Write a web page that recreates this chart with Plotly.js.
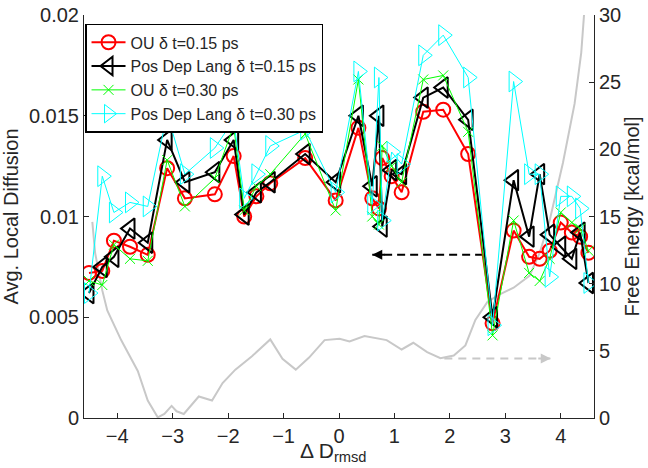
<!DOCTYPE html>
<html>
<head>
<meta charset="utf-8">
<script src="https://cdn.plot.ly/plotly-3.0.1.min.js"></script>
<style>html,body{margin:0;padding:0;background:#fff}#chart{width:648px;height:468px}</style>
</head>
<body>
<div id="chart"></div>
<script>
// Reaction coordinate bins (Δ D_rmsd)
const binX = [-4.51, -4.27, -4.06, -3.77, -3.45, -3.10, -2.78, -2.24, -1.90, -1.71, -1.49, -1.24, -0.61, -0.06, 0.35, 0.60, 0.72, 0.78, 0.95, 1.13, 1.52, 1.88, 2.33, 2.77, 3.15, 3.43, 3.62, 3.80, 4.00, 4.20, 4.35, 4.50];

// Avg. local diffusion per series
const ou015 = [0.0072, 0.0073, 0.0088, 0.0085, 0.0081, 0.0124, 0.0109, 0.0111, 0.0130, 0.0100, 0.0110, 0.01165, 0.0129, 0.0108, 0.0144, 0.0109, 0.0104, 0.0129, 0.0120, 0.0112, 0.0152, 0.0153, 0.0131, 0.0047, 0.0093, 0.0080, 0.0079, 0.0083, 0.0097, 0.0092, 0.0090, 0.0082];
const pdl015 = [0.0062, 0.0075, 0.0080, 0.0094, 0.0087, 0.0138, 0.0117, 0.0122, 0.0138, 0.0101, 0.0112, 0.0117, 0.0131, 0.0117, 0.0150, 0.0115, 0.0150, 0.0095, 0.0123, 0.0121, 0.0159, 0.0164, 0.0148, 0.0050, 0.0118, 0.0090, 0.0121, 0.0091, 0.0085, 0.0079, 0.0092, 0.0067];
const ou030 = [0.0068, 0.0066, 0.0086, 0.0079, 0.0078, 0.0128, 0.0105, 0.0119, 0.0145, 0.0103, 0.0115, 0.0121, 0.0141, 0.0103, 0.0168, 0.0100, 0.0096, 0.0135, 0.0125, 0.0117, 0.0168, 0.0170, 0.0142, 0.0041, 0.0098, 0.0072, 0.0068, 0.0079, 0.0102, 0.0097, 0.0094, 0.0083];
const pdl030 = [0.0062, 0.0120, 0.0102, 0.0107, 0.0105, 0.0151, 0.0121, 0.0134, 0.0148, 0.0109, 0.0121, 0.0135, 0.0143, 0.0112, 0.0172, 0.0106, 0.0169, 0.0098, 0.0132, 0.0126, 0.0180, 0.0190, 0.0169, 0.0046, 0.0167, 0.0121, 0.0121, 0.0070, 0.0110, 0.0110, 0.0104, 0.0067];

// Free energy profile (right axis)
const feX = [-4.45, -4.40, -4.27, -4.18, -3.93, -3.63, -3.45, -3.27, -3.15, -3.02, -2.93, -2.80, -2.53, -2.29, -2.10, -1.87, -1.57, -1.24, -1.02, -0.78, -0.54, -0.26, 0.01, 0.19, 0.46, 0.86, 1.13, 1.34, 1.59, 1.83, 2.07, 2.28, 2.46, 2.68, 2.90, 3.15, 3.44, 3.62, 3.80, 4.04, 4.25, 4.37, 4.42];
const feY = [14.6, 12.3, 9.5, 8.0, 5.8, 3.5, 1.3, 0.05, 0.3, 0.9, 0.5, 0.3, 1.6, 1.3, 2.6, 3.6, 4.6, 5.85, 4.4, 3.6, 4.5, 5.8, 5.9, 5.7, 6.1, 5.8, 5.1, 5.6, 4.9, 4.45, 4.65, 5.4, 7.3, 8.65, 9.2, 9.7, 10.6, 12.3, 14.7, 19.0, 23.4, 27.2, 30.0];

// Arrow guides
const blackArrowX = [2.60, 0.60];
const blackArrowY = [0.0081, 0.0081];
const grayArrowX = [1.90, 3.82];
const grayArrowY = [4.43, 4.43];

// Tick labels
const xTicks = [-4, -3, -2, -1, 0, 1, 2, 3, 4];
const leftTicks = [0, 0.005, 0.01, 0.015, 0.02];
const leftTickText = ['0', '0.005', '0.01', '0.015', '0.02'];
const rightTicks = [0, 5, 10, 15, 20, 25, 30];

const FONT = 'Liberation Sans, Arial, Helvetica, sans-serif';
const TXT = '#262626';

const traces = [
  {x: feX, y: feY, yaxis: 'y', mode: 'lines', line: {color: '#c8c8c8', width: 2}, showlegend: false, hoverinfo: 'skip'},
  {x: grayArrowX, y: grayArrowY, yaxis: 'y', mode: 'lines', line: {color: '#c8c8c8', width: 2, dash: '8px,6px'}, showlegend: false, hoverinfo: 'skip'},
  {x: blackArrowX, y: blackArrowY, yaxis: 'y2', mode: 'lines', line: {color: '#000', width: 2, dash: '8px,5px'}, showlegend: false, hoverinfo: 'skip'},
  {x: binX, y: ou015, yaxis: 'y2', name: 'OU δ t=0.15 ps', mode: 'lines+markers',
   line: {color: '#ff0000', width: 2}, marker: {symbol: 'circle-open', size: 14, color: '#ff0000', line: {width: 2}}},
  {x: binX, y: pdl015, yaxis: 'y2', name: 'Pos Dep Lang δ t=0.15 ps', mode: 'lines+markers',
   line: {color: '#000000', width: 2}, marker: {symbol: 'triangle-left-open', size: 18, color: '#000000', line: {width: 2}}},
  {x: binX, y: ou030, yaxis: 'y2', name: 'OU δ t=0.30 ps', mode: 'lines+markers',
   line: {color: '#00ff00', width: 1}, marker: {symbol: 'x-thin-open', size: 10, color: '#00ff00', line: {width: 1, color: '#00ff00'}}},
  {x: binX, y: pdl030, yaxis: 'y2', name: 'Pos Dep Lang δ t=0.30 ps', mode: 'lines+markers',
   line: {color: '#00ffff', width: 1}, marker: {symbol: 'triangle-right-open', size: 18, color: '#00ffff', line: {width: 1}}}
];

const layout = {
  width: 648, height: 468,
  margin: {l: 84, r: 54, t: 15, b: 50},
  paper_bgcolor: '#fff', plot_bgcolor: '#fff',
  font: {family: FONT, color: TXT, size: 20},
  showlegend: true,
  legend: {x: 0.002, y: 0.978, xanchor: 'left', yanchor: 'top', bgcolor: '#fff', bordercolor: '#000', borderwidth: 1.5,
           font: {family: FONT, size: 16, color: TXT}, tracegroupgap: 0, itemwidth: 34},
  xaxis: {range: [-4.6, 4.6], tickvals: xTicks, ticks: 'inside', ticklen: 5, tickcolor: TXT,
          showline: true, linecolor: TXT, linewidth: 1, showgrid: false, zeroline: false,
          tickfont: {size: 20, color: TXT}},
  yaxis: {side: 'right', range: [0, 30], tickvals: rightTicks, ticks: 'inside', ticklen: 5, tickcolor: TXT,
          showline: true, linecolor: TXT, linewidth: 1, showgrid: false, zeroline: false,
          tickfont: {size: 20, color: TXT},
          title: {text: 'Free Energy [kcal/mol]', font: {size: 20, color: TXT}, standoff: 4}},
  yaxis2: {overlaying: 'y', side: 'left', range: [0, 0.02], tickvals: leftTicks, ticktext: leftTickText,
           ticks: 'inside', ticklen: 5, tickcolor: TXT, showline: true, linecolor: TXT, linewidth: 1,
           showgrid: false, zeroline: false, tickfont: {size: 20, color: TXT},
           title: {text: 'Avg. Local Diffusion', font: {size: 20, color: TXT}, standoff: 4}},
  annotations: [
    {xref: 'paper', yref: 'paper', x: 0.49, y: -0.084, xanchor: 'center', yanchor: 'middle', showarrow: false,
     text: 'Δ D<sub>rmsd</sub>', font: {family: FONT, size: 21, color: TXT}},
    {x: blackArrowX[1], y: blackArrowY[1], xref: 'x', yref: 'y2', ax: 14, ay: 0, text: '', showarrow: true,
     arrowhead: 2, arrowsize: 1, arrowwidth: 2, arrowcolor: '#000'},
    {x: grayArrowX[1], y: grayArrowY[1], xref: 'x', yref: 'y', ax: -14, ay: 0, text: '', showarrow: true,
     arrowhead: 2, arrowsize: 1, arrowwidth: 2, arrowcolor: '#c8c8c8'}
  ]
};

Plotly.newPlot('chart', traces, layout, {displayModeBar: false, staticPlot: true});
</script>
</body>
</html>
